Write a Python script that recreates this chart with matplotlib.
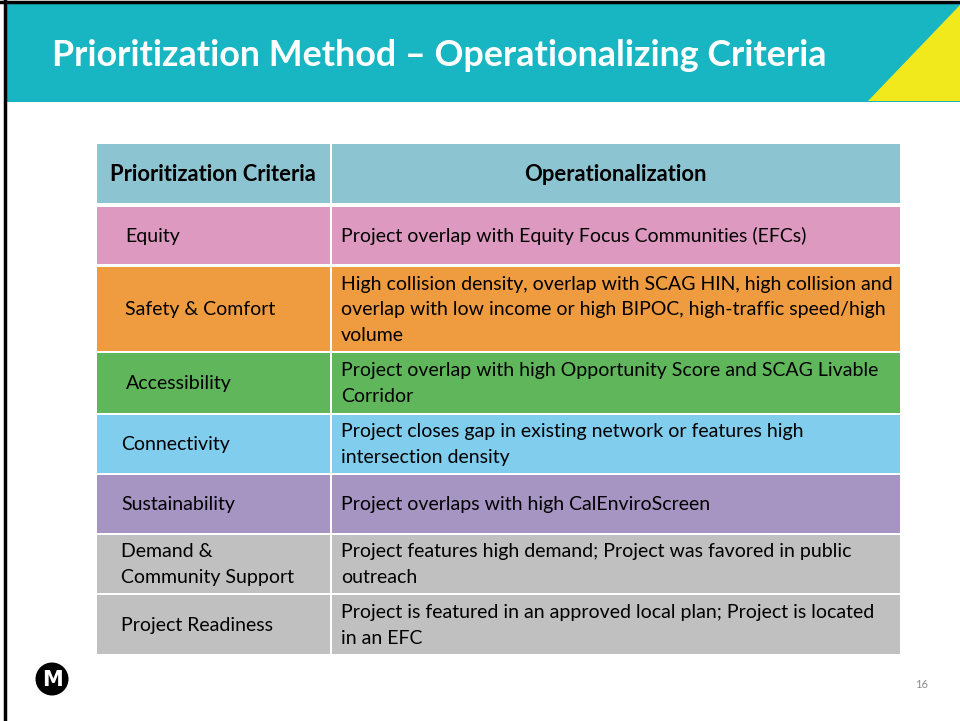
import matplotlib.pyplot as plt
from matplotlib.patches import Rectangle, Polygon, Circle

TITLE = "Prioritization Method \u2013 Operationalizing Criteria"
HEADERS = ["Prioritization Criteria", "Operationalization"]

CRITERIA = [
    "Equity",
    "Safety & Comfort",
    "Accessibility",
    "Connectivity",
    "Sustainability",
    "Demand &\nCommunity Support",
    "Project Readiness",
]
OPERATIONALIZATION = [
    "Project overlap with Equity Focus Communities (EFCs)",
    "High collision density, overlap with SCAG HIN, high collision and\n"
    "overlap with low income or high BIPOC, high-traffic speed/high\nvolume",
    "Project overlap with high Opportunity Score and SCAG Livable\nCorridor",
    "Project closes gap in existing network or features high\nintersection density",
    "Project overlaps with high CalEnviroScreen",
    "Project features high demand; Project was favored in public\noutreach",
    "Project is featured in an approved local plan; Project is located\nin an EFC",
]
ROW_COLORS = ["#dd99bf", "#ef9b3f", "#5fb65b", "#80cdee", "#a694c2", "#c0c0c0", "#c0c0c0"]
HEADER_COLOR = "#8dc4d2"

# layout (pixels)
ROW_EDGES = [(144, 203), (205, 264), (265, 351), (351, 413), (413, 473), (473, 533), (533, 593), (593, 654)]
LEFT_INDENT = [125, 125, 126, 121, 121, 121, 121]
X0, XSPLIT, X1 = 97, 331, 900

FONT = ["Lato", "DejaVu Sans"]

fig = plt.figure(figsize=(9.6, 7.21), dpi=100)
ax = fig.add_axes([0, 0, 1, 1])
ax.set_xlim(0, 960)
ax.set_ylim(721, 0)
ax.axis("off")

# slide frame + header band
ax.add_patch(Rectangle((0, 0), 960, 721, facecolor="white", edgecolor="none"))
ax.add_patch(Rectangle((4, 3), 956, 99, facecolor="#17b6c2", edgecolor="none"))
ax.add_patch(Polygon([(868, 101), (960, 101), (960, 5)], closed=True, facecolor="#f2e91c", edgecolor="none"))
ax.plot([0, 960], [1.5, 1.5], color="black", linewidth=2.5)
ax.plot([4.5, 4.5], [0, 721], color="black", linewidth=2.5)

ax.text(52, 56, TITLE, color="white", fontsize=25.8, fontweight="bold", family=FONT, va="center", ha="left")

# table header
y0, y1 = ROW_EDGES[0]
ax.add_patch(Rectangle((X0, y0), XSPLIT - X0 - 1, y1 - y0, facecolor=HEADER_COLOR, edgecolor="none"))
ax.add_patch(Rectangle((XSPLIT + 1, y0), X1 - XSPLIT - 1, y1 - y0, facecolor=HEADER_COLOR, edgecolor="none"))
ax.text(110, (y0 + y1) / 2 + 1, HEADERS[0], fontsize=15.8, fontweight="bold", family=FONT, va="center", ha="left")
ax.text((XSPLIT + X1) / 2, (y0 + y1) / 2 + 1, HEADERS[1], fontsize=15.8, fontweight="bold", family=FONT,
        va="center", ha="center")

# table body
for i, (crit, op, col) in enumerate(zip(CRITERIA, OPERATIONALIZATION, ROW_COLORS)):
    y0, y1 = ROW_EDGES[i + 1]
    top = y0 + 1.5
    h = y1 - y0 - 1.5
    ax.add_patch(Rectangle((X0, top), XSPLIT - X0 - 1, h, facecolor=col, edgecolor="none"))
    ax.add_patch(Rectangle((XSPLIT + 1, top), X1 - XSPLIT - 1, h, facecolor=col, edgecolor="none"))
    yc = top + h / 2 + 1
    ax.text(LEFT_INDENT[i], yc, crit, fontsize=14, family=FONT, va="center", ha="left", linespacing=1.62)
    ax.text(341, yc, op, fontsize=14, family=FONT, va="center", ha="left", linespacing=1.62)

# logo + page number
ax.add_patch(Circle((52, 679), 16.5, facecolor="black", edgecolor="none"))
ax.text(52, 680, "M", color="white", fontsize=15, fontweight="bold", family=["Liberation Sans Narrow", "DejaVu Sans"],
        va="center", ha="center")
ax.text(922, 684, "16", color="#8c8c8c", fontsize=8, family=FONT, va="center", ha="center")

fig.savefig("out.png", dpi=100)
